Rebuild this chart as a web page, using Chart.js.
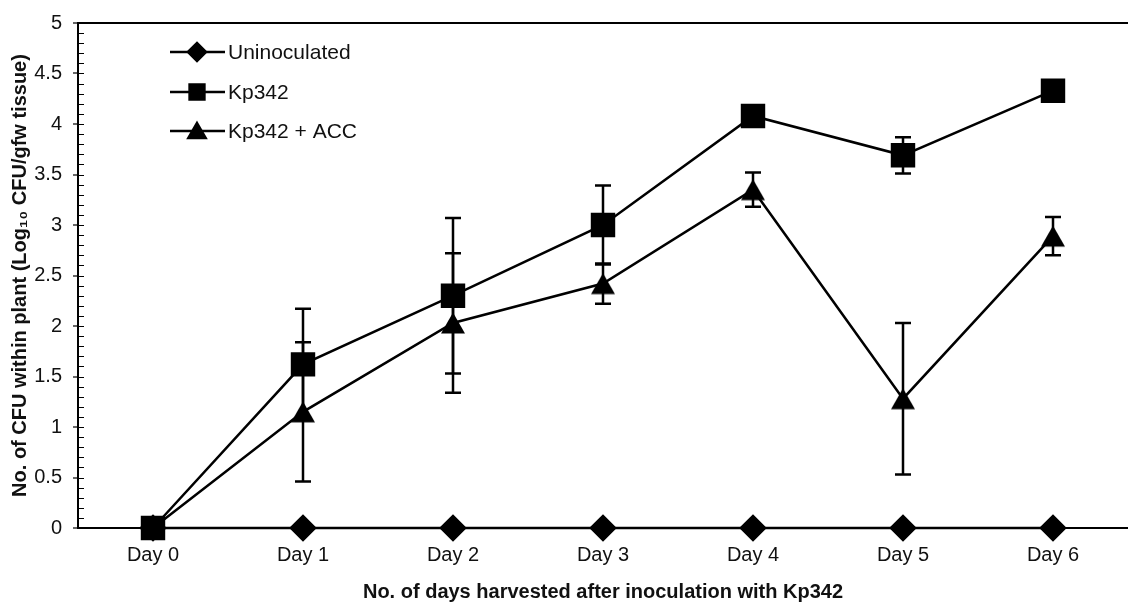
<!DOCTYPE html>
<html lang="en">
<head>
  <meta charset="UTF-8">
  <title>CFU within plant</title>
  <script src="https://cdn.jsdelivr.net/npm/chart.js"></script>
  <style>
    body {
      margin: 0;
      background-color: #ffffff;
    }
    .chart-container {
      width: 1128px;
      height: 609px;
      position: relative;
    }
  </style>
</head>
<body>

  <div class="chart-container">
    <canvas id="cfuChart"></canvas>
  </div>

  <script>
    const days = ["Day 0", "Day 1", "Day 2", "Day 3", "Day 4", "Day 5", "Day 6"];
    const uninoculated = [0, 0, 0, 0, 0, 0, 0];
    const kp342 = [0, 1.62, 2.3, 3.0, 4.08, 3.69, 4.33];
    const kp342Err = [0, 0.55, 0.77, 0.39, 0, 0.18, 0];
    const kp342Acc = [0, 1.15, 2.03, 2.42, 3.35, 1.28, 2.89];
    const kp342AccErr = [0, 0.69, 0.69, 0.2, 0.17, 0.75, 0.19];
    const yTicks = [0, 0.5, 1, 1.5, 2, 2.5, 3, 3.5, 4, 4.5, 5];

    const font = "'Liberation Sans', Arial, sans-serif";

    // triangle marker centred on its box, like the spreadsheet ones
    const tri = document.createElement('canvas');
    tri.width = 26;
    tri.height = 24;
    const tctx = tri.getContext('2d');
    tctx.fillStyle = '#000';
    tctx.beginPath();
    tctx.moveTo(13, 1.5);
    tctx.lineTo(25, 22.5);
    tctx.lineTo(1, 22.5);
    tctx.closePath();
    tctx.fill();

    // error bars, drawn from the same scales as the points
    const errorBars = {
      id: 'errorBars',
      afterDatasetsDraw(chart) {
        const ctx = chart.ctx;
        const x = chart.scales.x, y = chart.scales.y;
        ctx.save();
        ctx.strokeStyle = '#000';
        ctx.lineWidth = 2.5;
        chart.data.datasets.forEach(ds => {
          if (!ds.errors) return;
          ds.data.forEach((v, i) => {
            const e = ds.errors[i];
            if (!e) return;
            const px = x.getPixelForValue(i);
            const top = y.getPixelForValue(v + e);
            const bot = y.getPixelForValue(v - e);
            ctx.beginPath();
            ctx.moveTo(px, top); ctx.lineTo(px, bot);
            ctx.moveTo(px - 8, top); ctx.lineTo(px + 8, top);
            ctx.moveTo(px - 8, bot); ctx.lineTo(px + 8, bot);
            ctx.stroke();
          });
        });
        ctx.restore();
      }
    };

    // minor ticks on the inside of the y axis
    const minorTicks = {
      id: 'minorTicks',
      afterDraw(chart) {
        const ctx = chart.ctx;
        const y = chart.scales.y;
        const ax = chart.chartArea.left;
        ctx.save();
        ctx.strokeStyle = '#000';
        ctx.lineWidth = 1.2;
        ctx.beginPath();
        for (let k = 1; k < 50; k++) {
          const py = Math.round(y.getPixelForValue(k / 10)) + 0.5;
          ctx.moveTo(ax, py);
          ctx.lineTo(ax + 6, py);
        }
        ctx.stroke();
        ctx.restore();
      }
    };

    // legend inside the plot, top left
    const insideLegend = {
      id: 'insideLegend',
      afterDraw(chart) {
        const ctx = chart.ctx;
        const rowY = [52, 92, 131];
        ctx.save();
        chart.data.datasets.forEach((ds, i) => {
          const y = rowY[i];
          ctx.strokeStyle = '#000';
          ctx.lineWidth = 2.5;
          ctx.beginPath();
          ctx.moveTo(170, y); ctx.lineTo(225, y);
          ctx.stroke();
          ctx.fillStyle = '#000';
          Chart.helpers.drawPoint(ctx, {
            pointStyle: ds.legendStyle,
            radius: ds.legendRadius,
            rotation: 0,
            borderWidth: 1
          }, 197, ds.legendStyle === 'triangle' ? y + 2 : y);
          ctx.fill();
          ctx.fillStyle = '#111';
          ctx.font = '21px ' + font;
          ctx.textBaseline = 'middle';
          ctx.textAlign = 'left';
          ctx.fillText(ds.label, 228, y + 1);
        });
        ctx.restore();
      }
    };

    const ctx = document.getElementById('cfuChart').getContext('2d');
    const cfuChart = new Chart(ctx, {
      type: 'line',
      data: {
        labels: days,
        datasets: [{
          label: 'Uninoculated',
          data: uninoculated,
          borderColor: '#000',
          backgroundColor: '#000',
          borderWidth: 2.5,
          pointStyle: 'rectRot',
          pointRadius: 12,
          legendStyle: 'rectRot',
          legendRadius: 9,
          clip: false,
          order: 3
        }, {
          label: 'Kp342',
          data: kp342,
          errors: kp342Err,
          borderColor: '#000',
          backgroundColor: '#000',
          borderWidth: 2.5,
          pointStyle: 'rect',
          pointRadius: 15.5,
          legendStyle: 'rect',
          legendRadius: 10.5,
          clip: false,
          order: 1
        }, {
          label: 'Kp342 + ACC',
          data: kp342Acc,
          errors: kp342AccErr,
          borderColor: '#000',
          backgroundColor: '#000',
          borderWidth: 2.5,
          pointStyle: tri,
          pointRadius: 13,
          legendStyle: 'triangle',
          legendRadius: 10,
          clip: false,
          order: 2
        }]
      },
      options: {
        responsive: true,
        maintainAspectRatio: false,
        animation: false,
        layout: { autoPadding: false, padding: { top: 17, right: 0, left: 0, bottom: 0 } },
        plugins: {
          legend: { display: false },
          tooltip: { enabled: false }
        },
        elements: { line: { tension: 0 }, point: { borderWidth: 1 } },
        scales: {
          x: {
            offset: true,
            afterFit: s => { s.height = 81; },
            border: { color: '#000', width: 2 },
            grid: { drawOnChartArea: false, tickLength: 6, tickColor: '#000', tickWidth: 1.2 },
            ticks: { color: '#111', padding: 9, font: { family: font, size: 20 } },
            title: {
              display: true,
              text: 'No. of days harvested after inoculation with Kp342',
              color: '#111',
              padding: { bottom: 5 },
              font: { family: font, size: 20, weight: 'bold' }
            }
          },
          y: {
            min: 0,
            max: 5,
            afterFit: s => { s.width = 78; },
            afterBuildTicks: s => { s.ticks = yTicks.map(v => ({ value: v })); },
            border: { color: '#000', width: 2 },
            grid: {
              color: c => (c.tick && c.tick.value === 5) ? '#000' : 'rgba(0,0,0,0)',
              lineWidth: 2,
              tickLength: 5,
              tickColor: '#000',
              tickWidth: 1.2
            },
            ticks: {
              color: '#111',
              padding: 11,
              font: { family: font, size: 20 },
              callback: v => String(v)
            },
            title: {
              display: true,
              text: 'No. of CFU within plant (Log\u2081\u2080 CFU/gfw tissue)',
              color: '#111',
              padding: { top: 8 },
              font: { family: font, size: 20, weight: 'bold' }
            }
          }
        }
      },
      plugins: [errorBars, minorTicks, insideLegend]
    });
  </script>

</body>
</html>
